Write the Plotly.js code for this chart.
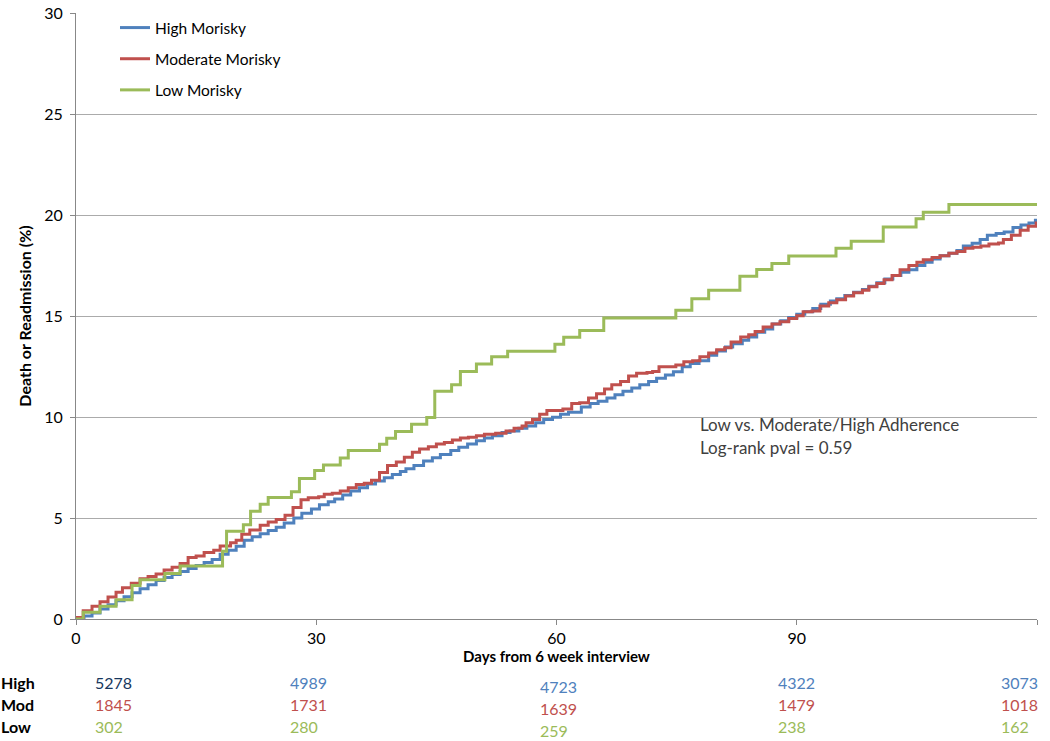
<!DOCTYPE html>
<html>
<head>
<meta charset="utf-8">
<script src="https://cdn.plot.ly/plotly-3.0.1.min.js"></script>
<style>
  html, body { margin: 0; padding: 0; background: #fff; }
  #chart { width: 1050px; height: 741px; }
</style>
</head>
<body>
<div id="chart"></div>
<script>
// ---- Data ----
const highDays = [0,1,2,3,4,5,6,7,8,9,10,11,12,13,14,15,16,17,18,19,20,21,22,23,24,25,26,27.2,28.2,29.4,30.4,31.5,32.3,33.3,34.3,35.4,36.4,37.4,38.5,39.5,40.5,41.2,42.2,43.4,44.5,45.5,46.8,47.8,48.9,50,51,52,53.2,54.2,55.3,56.3,57.4,58.4,59.5,60.5,61.5,63.1,64.2,65.2,66.3,67.3,68.3,69.4,70.4,71.5,72.5,73.6,74.6,75.7,76.7,77.8,79,80,81.1,82,83.2,84,85,86,87,88,89,90,91,92,93,94.2,95,96,97.1,98.2,99,100,101,102,103,104,105,106,106.9,107.9,109,110,110.8,111.9,112.9,113.8,114.9,115.9,117,118,119,119.8,120];
const highPct = [0,0.15,0.3,0.5,0.7,0.9,1.1,1.3,1.5,1.7,1.9,2.05,2.2,2.35,2.5,2.65,2.8,2.95,3.2,3.4,3.6,3.9,4.07,4.22,4.38,4.54,4.75,5.0,5.24,5.45,5.65,5.81,5.94,6.14,6.34,6.5,6.68,6.83,6.99,7.15,7.3,7.44,7.6,7.82,7.98,8.14,8.34,8.5,8.66,8.82,8.96,9.07,9.23,9.31,9.44,9.56,9.72,9.88,9.99,10.13,10.24,10.5,10.67,10.78,10.94,11.1,11.27,11.43,11.6,11.76,11.92,12.08,12.24,12.49,12.65,12.78,13.06,13.27,13.47,13.63,13.8,13.96,14.2,14.36,14.6,14.77,14.93,15.09,15.21,15.37,15.58,15.74,15.85,16.02,16.18,16.31,16.47,16.64,16.83,17.0,17.16,17.29,17.5,17.66,17.82,17.98,18.11,18.24,18.47,18.6,18.79,19.0,19.08,19.16,19.38,19.5,19.6,19.74,19.74];

const modDays = [0,0.9,2,3,4,5,5.8,6.9,8,9,10,11,12,13,14,15,16,17.2,18,19.3,20,20.7,21.7,23,24,25,26.1,27.1,28.1,29,30.3,31,32,33,34,35,36,36.9,37.9,38.9,40,41,42,42.9,44,45,46,47,48,49,50,51,52.4,53.7,54.7,55.7,56.2,57,57.9,58.8,60.8,61.9,62.9,64,65,66,66.9,68,69,70,71.3,72,72.8,74.9,75.9,77,77.9,79,80,81,81.8,83,84,84.8,85.8,86.9,87.9,89,90,90.8,91.9,92.9,94,95,96.1,97.1,98.2,99,100,100.9,101.9,102.9,104,105,105.8,106.9,107.9,109,110,111,112,113,114,115.2,115.8,116.8,117.9,118.9,119.9,120];
const modPct = [0.08,0.41,0.63,0.85,1.09,1.33,1.55,1.77,1.99,2.1,2.23,2.43,2.56,2.75,3.04,3.12,3.29,3.4,3.61,3.78,3.9,4.19,4.4,4.64,4.8,4.93,5.13,5.52,5.9,6.0,6.05,6.17,6.22,6.34,6.5,6.66,6.72,6.87,7.25,7.6,7.77,8.01,8.26,8.42,8.53,8.66,8.74,8.86,8.96,9.0,9.07,9.15,9.2,9.31,9.44,9.56,9.72,9.88,10.13,10.32,10.4,10.67,10.7,10.94,11.15,11.38,11.6,11.76,12.03,12.16,12.2,12.25,12.49,12.57,12.73,12.78,12.98,13.17,13.33,13.43,13.71,13.96,14.07,14.23,14.45,14.61,14.72,14.88,15.01,15.21,15.25,15.5,15.66,15.8,15.99,16.15,16.28,16.45,16.61,16.8,17.0,17.29,17.5,17.66,17.78,17.9,17.98,18.11,18.19,18.35,18.4,18.46,18.56,18.62,18.79,19.0,19.25,19.44,19.6,19.6];

const lowDays = [0,0.9,3,5,7,8,11.1,13,18.3,18.8,20.9,21.8,23,24,26.9,27.9,29.8,30.9,33,34,37.9,38.8,39.9,41.9,43.8,44.8,46.9,48,50,51.9,53.9,59.8,60.9,62.9,65.9,74.9,76.9,79,82.9,85,86.9,89,94.9,96.8,100.8,104.9,105.8,109,120];
const lowPct = [0,0.33,0.63,0.95,1.66,1.94,2.25,2.62,3.35,4.35,4.67,5.33,5.68,6.01,6.3,6.95,7.35,7.62,7.97,8.34,8.65,8.95,9.28,9.64,9.97,11.27,11.6,12.25,12.62,12.98,13.25,13.6,13.95,14.28,14.9,15.29,15.86,16.27,16.97,17.3,17.6,17.97,18.35,18.7,19.4,19.82,20.14,20.52,20.52];

const seriesNames = ["High Morisky", "Moderate Morisky", "Low Morisky"];
const seriesColors = ["#4F81BD", "#C0504D", "#9BBB59"];

// numbers at risk
const riskRowLabels = ["High", "Mod", "Low"];
const riskHigh = [5278, 4989, 4723, 4322, 3073];
const riskMod = [1845, 1731, 1639, 1479, 1018];
const riskLow = [302, 280, 259, 238, 162];

const xTicks = [0, 30, 60, 90, 120];
const yTicks = [0, 5, 10, 15, 20, 25, 30];

// ---- Layout helpers (pixel geometry of the plot area) ----
const W = 1050, H = 741;
const mL = 76, mR = 13, mT = 11, mB = 122;
const plotW = W - mL - mR, plotH = H - mT - mB;
const px2x = p => (p - mL) / plotW;
const py2y = p => (H - mB - p) / plotH;

const FONT = "Lato, 'Open Sans', sans-serif";

const traces = [
  {x: highDays, y: highPct},
  {x: modDays, y: modPct},
  {x: lowDays, y: lowPct}
].map((d, i) => ({
  x: d.x, y: d.y, type: 'scatter', mode: 'lines',
  name: seriesNames[i], legendgroup: 'g' + i,
  line: {color: seriesColors[i], width: 3, shape: 'hv'},
  hoverinfo: 'x+y+name'
}));

const annotations = [];
// risk table row labels
const rowY = [683, 705, 727];
riskRowLabels.forEach((lab, r) => {
  annotations.push({
    xref: 'paper', yref: 'paper', x: px2x(0), y: py2y(rowY[r]),
    xanchor: 'left', yanchor: 'middle', showarrow: false, borderpad: 0,
    text: '<b>' + lab + '</b>', font: {family: FONT, size: 16, color: '#000'}
  });
});
const colLeft = [95, 290, 540, 778, 1001];
const colDy = [0, 0, 4, 0, 0];
const riskRows = [riskHigh, riskMod, riskLow];
const riskColors = [
  ['#17375E', '#4F81BD', '#4F81BD', '#4F81BD', '#4F81BD'],
  ['#C0504D', '#C0504D', '#C0504D', '#C0504D', '#C0504D'],
  ['#9BBB59', '#9BBB59', '#9BBB59', '#9BBB59', '#9BBB59']
];
riskRows.forEach((row, r) => {
  row.forEach((v, c) => {
    annotations.push({
      xref: 'paper', yref: 'paper', x: px2x(colLeft[c] - 1), y: py2y(rowY[r] + colDy[c]),
      xanchor: 'left', yanchor: 'middle', showarrow: false, borderpad: 0,
      text: String(v), font: {family: FONT, size: 16, color: riskColors[r][c]}
    });
  });
});
// log-rank note
annotations.push({
  xref: 'paper', yref: 'paper', x: px2x(698), y: py2y(424),
  xanchor: 'left', yanchor: 'middle', showarrow: false,
  text: 'Low vs. Moderate/High Adherence', font: {family: FONT, size: 17, color: '#404040'}
});
annotations.push({
  xref: 'paper', yref: 'paper', x: px2x(698), y: py2y(447),
  xanchor: 'left', yanchor: 'middle', showarrow: false,
  text: 'Log-rank pval = 0.59', font: {family: FONT, size: 17, color: '#404040'}
});

const layout = {
  width: W, height: H,
  margin: {l: mL, r: mR, t: mT, b: mB, pad: 0},
  paper_bgcolor: '#fff', plot_bgcolor: '#fff',
  font: {family: FONT, size: 15, color: '#000'},
  showlegend: true,
  legend: {
    x: px2x(115), y: py2y(9), xanchor: 'left', yanchor: 'top',
    bgcolor: 'rgba(0,0,0,0)', traceorder: 'grouped', tracegroupgap: 8,
    font: {family: FONT, size: 15.5, color: '#000'}
  },
  xaxis: {
    range: [0, 120], tickvals: xTicks, ticktext: xTicks.map(String),
    showgrid: false, zeroline: false,
    showline: true, linecolor: '#888', linewidth: 1,
    ticks: 'outside', ticklen: 5, tickcolor: '#888',
    tickfont: {family: FONT, size: 16, color: '#000'},
    title: {text: '<b>Days from 6 week interview</b>', font: {family: FONT, size: 15, color: '#000'}, standoff: 2}
  },
  yaxis: {
    range: [0, 30], tickvals: yTicks, ticktext: yTicks.map(String),
    showgrid: true, gridcolor: '#ABABAB', gridwidth: 1, zeroline: false,
    showline: true, linecolor: '#888', linewidth: 1,
    ticks: 'outside', ticklen: 5, tickcolor: '#888',
    ticklabeloverflow: 'allow', ticklabelstandoff: 4,
    tickfont: {family: FONT, size: 16, color: '#000'},
    title: {text: '<b>Death or Readmission (%)</b>', font: {family: FONT, size: 16, color: '#000'}, standoff: 8}
  },
  annotations: annotations
};

Plotly.newPlot('chart', traces, layout, {displayModeBar: false, staticPlot: true});
</script>
</body>
</html>
